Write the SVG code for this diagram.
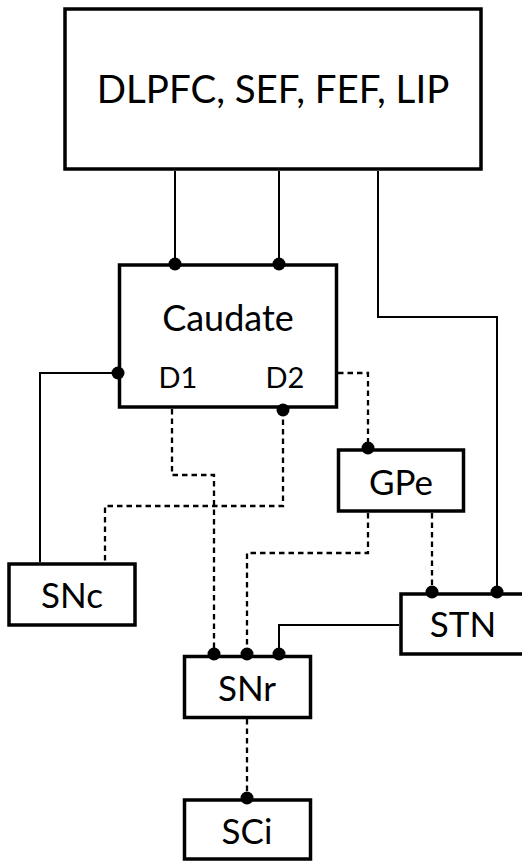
<svg xmlns="http://www.w3.org/2000/svg" width="522" height="862" viewBox="0 0 522 862">
<style>
.box{fill:#fff;stroke:#000;stroke-width:3.5}
.t{font-family:Lato,"Open Sans",sans-serif;fill:#000;text-anchor:middle}
.s{fill:none;stroke:#000;stroke-width:2}
.d{fill:none;stroke:#000;stroke-width:2.3;stroke-dasharray:5.5 4}
.dot{fill:#000}
</style>
<g id="cortex">
<rect class="box" x="65" y="9" width="416" height="160"/>
<text class="t" x="273" y="103" font-size="38.5">DLPFC, SEF, FEF, LIP</text>
</g>
<g id="caudate">
<rect class="box" x="119.5" y="265" width="217" height="142"/>
<text class="t" x="228" y="331" font-size="36">Caudate</text>
<text class="t" x="178" y="388" font-size="29">D1</text>
<text class="t" x="285" y="388" font-size="29">D2</text>
</g>
<g id="gpe">
<rect class="box" x="338.5" y="450" width="125" height="61"/>
<text class="t" x="401" y="495" font-size="35">GPe</text>
</g>
<g id="snc">
<rect class="box" x="9" y="564" width="126" height="61"/>
<text class="t" x="72" y="608" font-size="35">SNc</text>
</g>
<g id="stn">
<rect class="box" x="401" y="594" width="130" height="60"/>
<text class="t" x="463" y="637" font-size="35">STN</text>
</g>
<g id="snr">
<rect class="box" x="184.5" y="656.5" width="126" height="61"/>
<text class="t" x="247" y="701" font-size="35">SNr</text>
</g>
<g id="sci">
<rect class="box" x="184.5" y="800" width="126" height="59"/>
<text class="t" x="247" y="844" font-size="35">SCi</text>
</g>
<g id="connectors">
<path class="s" d="M175 171V263"/>
<path class="s" d="M279 171V263"/>
<path class="s" d="M378 171V317H497V592"/>
<path class="s" d="M118 373H40V562"/>
<path class="d" d="M338 373H368V448"/>
<path class="d" d="M172 409V475H214V654"/>
<path class="d" d="M283 410V506H105V562"/>
<path class="d" d="M368 513V553H247V654"/>
<path class="d" d="M432 513V592"/>
<path class="s" d="M399 625H279V654"/>
<path class="d" d="M247 719V798"/>
<circle class="dot" cx="175" cy="264" r="6.5"/>
<circle class="dot" cx="279" cy="264" r="6.5"/>
<circle class="dot" cx="118" cy="373" r="6.5"/>
<circle class="dot" cx="283" cy="410" r="6.5"/>
<circle class="dot" cx="368" cy="448" r="6.5"/>
<circle class="dot" cx="432" cy="592" r="6.5"/>
<circle class="dot" cx="497" cy="592" r="6.5"/>
<circle class="dot" cx="214" cy="654" r="6.5"/>
<circle class="dot" cx="247" cy="654" r="6.5"/>
<circle class="dot" cx="279" cy="654" r="6.5"/>
<circle class="dot" cx="247" cy="798" r="6.5"/>
</g>
</svg>
